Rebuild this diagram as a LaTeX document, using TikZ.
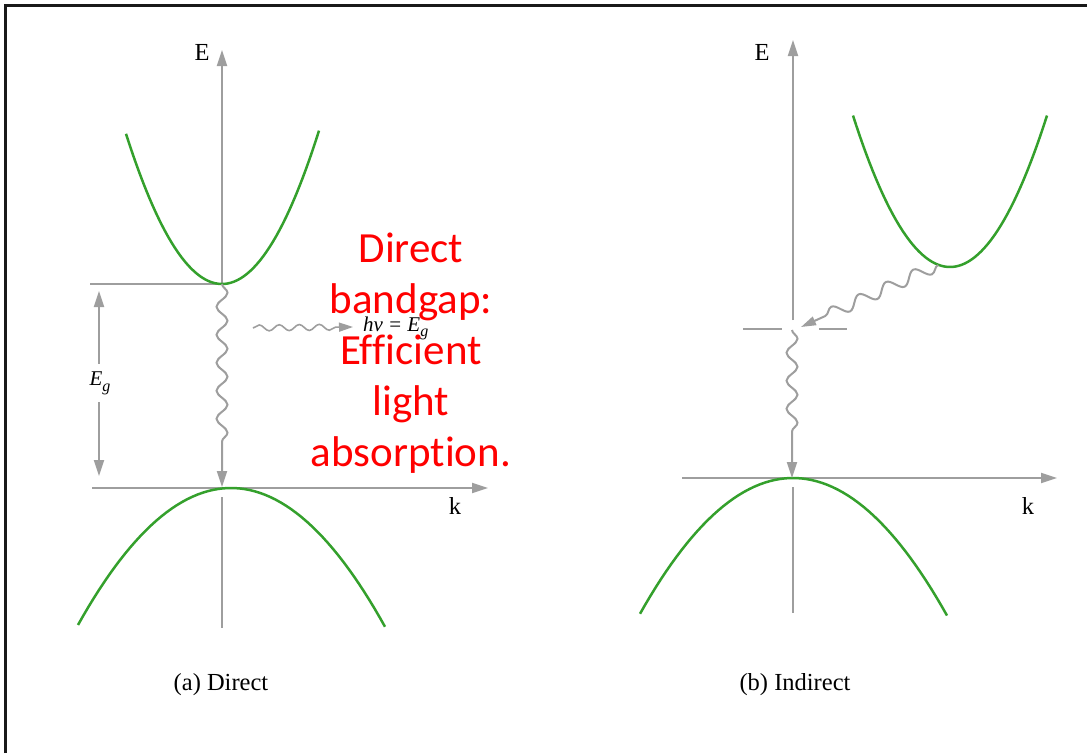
\documentclass[tikz,border=0pt]{standalone}
\usepackage{fontspec}
\setmainfont{Liberation Serif}
\newfontfamily\redfont[Ligatures={NoCommon}]{Carlito}
\usetikzlibrary{arrows.meta,decorations.pathmorphing}
\definecolor{axgray}{RGB}{158,158,158}
\definecolor{bandgreen}{RGB}{52,160,44}
\definecolor{textred}{RGB}{255,0,0}
\newcommand\mysub[1]{\raisebox{-0.28em}{\fontsize{16}{16}\selectfont #1}}
\begin{document}
\begin{tikzpicture}[x=1pt,y=-1pt,
  axis/.style={draw=axgray, line width=2pt},
  tipped/.style={-{Triangle[length=16pt,width=10pt]}},
  band/.style={draw=bandgreen, line width=2.5pt},
  wavev/.style={decorate, decoration={snake, amplitude=5.5pt, segment length=28pt, post length=34pt}},
  lbl/.style={font=\fontsize{24.5}{28}\selectfont, inner sep=0pt},
  mathlbl/.style={font=\fontsize{21}{24}\selectfont\itshape, inner sep=0pt},
  frameline/.style={draw=black!90, line width=2.5pt}
]
\useasboundingbox (0,0) rectangle (1087,753);
% frame
\coordinate (fbl) at (5.5,753);
\coordinate (ftl) at (5.5,5.5);
\coordinate (ftr) at (1087,5.5);
\draw[frameline] (fbl) -- (ftl) -- (ftr);

% ===== panel (a) =====
\coordinate (aO) at (222,284);
\coordinate (aTop) at (222,50);
\coordinate (aVB) at (222,488);
\coordinate (aLow1) at (222,497);
\coordinate (aLow2) at (222,628);
\coordinate (akL) at (92,488);
\coordinate (akR) at (488,488);
\coordinate (aLev) at (90,284);
\draw[axis,tipped] (aO) -- (aTop);
\draw[axis] (aLow1) -- (aLow2);
\draw[axis,tipped] (akL) -- (akR);
\draw[axis] (aLev) -- (aO);
\node[lbl] (aE) at (202,52) {E};
\node[lbl] (ak) at (455,506) {k};
% bands
\draw[band] plot[domain=126:319, samples=60] (\x,{284-1.63*((\x-222)/10)^2});
\draw[band] plot[domain=78:385, samples=60] (\x,{488+0.585*((\x-231)/10)^2});
% Eg arrow
\coordinate (egT) at (99,291);
\coordinate (egB) at (99,476);
\draw[axis,{Triangle[length=16pt,width=10pt]}-{Triangle[length=16pt,width=10pt]}] (egT) -- (egB);
\node[mathlbl, fill=white, inner ysep=7pt, inner xsep=2pt] (eg) at (100,383) {E\mysub{g}};
% transition
\coordinate (aWend) at (222,487);
\draw[axis,tipped,wavev] (aO) -- (aWend);
% photon
\coordinate (phS) at (253,328);
\coordinate (phE) at (353,327);
\draw[axis,line width=1.6pt,-{Triangle[length=14pt,width=9pt]},decorate,decoration={snake,amplitude=3pt,segment length=20pt,post length=16pt}] (phS) -- (phE);
\node[mathlbl, anchor=base west] (hv) at (363,331) {hv\hspace{0.3em}\upshape =\hspace{0.3em}\itshape E\mysub{g}};
% red text
\node[font=\redfont\fontsize{43}{51}\selectfont, text=textred, align=center, inner sep=0pt] (red) at (411,353)
 {Direct\\bandgap:\\Efficient\\light\\absorption.};
\node[lbl] (capa) at (221,685) {(a) Direct};

% ===== panel (b) =====
\coordinate (bGapT) at (793,320);
\coordinate (bTop) at (793,40);
\coordinate (bW1) at (792,330);
\coordinate (bVB) at (792,478);
\coordinate (bLow1) at (793,487);
\coordinate (bLow2) at (793,613);
\coordinate (bkL) at (682,478);
\coordinate (bkR) at (1057,478);
\draw[axis,tipped] (bGapT) -- (bTop);
\draw[axis] (bLow1) -- (bLow2);
\draw[axis,tipped] (bkL) -- (bkR);
\coordinate (bd1) at (743,329);
\coordinate (bd2) at (782,329);
\coordinate (bd3) at (819,329);
\coordinate (bd4) at (847,329);
\draw[axis] (bd1) -- (bd2);
\draw[axis] (bd3) -- (bd4);
\node[lbl] (bE) at (762,52) {E};
\node[lbl] (bk) at (1028,506) {k};
\draw[band] plot[domain=853:1047, samples=60] (\x,{267-1.61*((\x-950)/10)^2});
\draw[band] plot[domain=640:947, samples=60] (\x,{478+0.58*((\x-793)/10)^2});
\draw[axis,tipped,wavev] (bW1) -- (bVB);
\coordinate (bCmin) at (938,265);
\coordinate (bPh) at (801,327);
\draw[axis,-{Triangle[length=15pt,width=9pt]},decorate,decoration={snake,amplitude=6pt,segment length=30pt,post length=22pt}] (bCmin) -- (bPh);
\node[lbl] (capb) at (795,685) {(b) Indirect};
\end{tikzpicture}
\end{document}
